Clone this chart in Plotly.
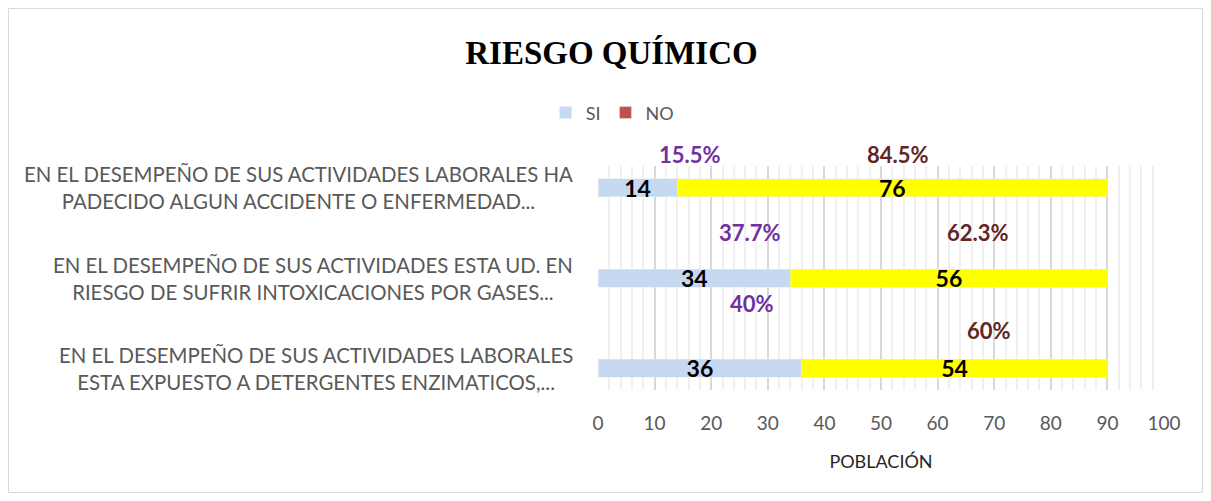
import plotly.graph_objects as go

title = "RIESGO QUÍMICO"
categories = [
    "EN EL DESEMPEÑO DE SUS ACTIVIDADES LABORALES<br>ESTA EXPUESTO A DETERGENTES ENZIMATICOS,...",
    "EN EL DESEMPEÑO DE SUS ACTIVIDADES ESTA UD. EN<br>RIESGO DE SUFRIR INTOXICACIONES POR GASES...",
    "EN EL DESEMPEÑO DE SUS ACTIVIDADES LABORALES HA<br>PADECIDO ALGUN ACCIDENTE O ENFERMEDAD...",
]
si_values = [36, 34, 14]
no_values = [54, 56, 76]
si_pct_labels = ["40%", "37.7%", "15.5%"]
no_pct_labels = ["60%", "62.3%", "84.5%"]
x_ticks = [0, 10, 20, 30, 40, 50, 60, 70, 80, 90, 100]

# label placement (layout only)
si_pct_pos = [(27.2, 0.72), (26.9, 1.51), (16.3, 2.37)]
no_pct_pos = [(69.0, 0.42), (67.1, 1.50), (53.0, 2.37)]

ypos = list(range(len(categories)))
FONT = "Lato, Noto Sans, sans-serif"
YR = [-0.244, 2.244]


def ypaper(v):
    return (v - YR[0]) / (YR[1] - YR[0])


fig = go.Figure()
fig.add_trace(go.Bar(
    y=ypos, x=si_values, orientation="h", name="SI",
    marker=dict(color="#C6D9F0"), width=0.2,
    text=si_values, textposition="inside", insidetextanchor="middle",
    constraintext="none", textangle=0,
    textfont=dict(family=FONT, size=23, color="black", weight="bold"),
))
fig.add_trace(go.Bar(
    y=ypos, x=no_values, orientation="h", name="NO", showlegend=False,
    marker=dict(color="#FFFF00"), width=0.2,
    text=no_values, textposition="inside", insidetextanchor="middle",
    constraintext="none", textangle=0,
    textfont=dict(family=FONT, size=23, color="black", weight="bold"),
))
# legend entry for NO (Excel legend shows the series colour)
fig.add_trace(go.Bar(y=[None], x=[None], orientation="h", name="NO",
                     marker=dict(color="#C0504D")))

annotations = []
for (x, y), t in zip(si_pct_pos, si_pct_labels):
    annotations.append(dict(x=x, y=ypaper(y), xref="x", yref="paper", text=t, showarrow=False,
                            xanchor="center", yanchor="middle",
                            font=dict(family=FONT, size=22, color="#7030A0", weight="bold")))
for (x, y), t in zip(no_pct_pos, no_pct_labels):
    annotations.append(dict(x=x, y=ypaper(y), xref="x", yref="paper", text=t, showarrow=False,
                            xanchor="center", yanchor="middle",
                            font=dict(family=FONT, size=22, color="#632523", weight="bold")))
for y, c in zip(ypos, categories):
    annotations.append(dict(x=-0.04, y=y, xref="paper", yref="y", text=c, showarrow=False,
                            xanchor="right", yanchor="middle", align="center",
                            font=dict(family=FONT, size=20.4, color="#595959")))

# page body adds an 8px offset; plot area spans x 590..1156, y 158..382 in figure px
W, H = 1195, 485
L, R, T, B = 590, 39, 158, 103
PW, PH = W - L - R, H - T - B
fig.update_layout(
    width=W, height=H,
    margin=dict(l=L, r=R, t=T, b=B),
    paper_bgcolor="white", plot_bgcolor="white",
    barmode="stack",
    title=dict(text="<b>" + title + "</b>", x=0.505, xanchor="center", y=1 - 44 / H, yanchor="middle",
               font=dict(family="Liberation Serif, DejaVu Serif, serif", size=33, color="black")),
    legend=dict(orientation="h", x=0.025, xanchor="center", y=1.237, yanchor="middle",
                font=dict(family=FONT, size=18, color="#595959"), traceorder="normal"),
    annotations=annotations,
    showlegend=True,
    shapes=[dict(type="rect", xref="paper", yref="paper",
                 x0=(-L + 0.5) / PW, x1=(W - L - 0.5) / PW,
                 y0=(-B + 0.5) / PH, y1=(PH + T - 0.5) / PH,
                 line=dict(color="#D9D9D9", width=1), layer="below")],
)
fig.update_xaxes(
    range=[0, 100], tickvals=x_ticks, showgrid=True, gridcolor="#D9D9D9", gridwidth=1.5,
    minor=dict(dtick=2, showgrid=True, gridcolor="#F0F0F0", gridwidth=1.5),
    zeroline=False, showline=False,
    ticks="outside", ticklen=16, tickcolor="rgba(0,0,0,0)",
    tickfont=dict(family=FONT, size=19, color="#595959"),
    title=dict(text="POBLACIÓN", font=dict(family=FONT, size=18, color="#262626"), standoff=22),
)
fig.update_yaxes(range=YR, showticklabels=False, showgrid=False, zeroline=False)

fig.write_html("out.html")
